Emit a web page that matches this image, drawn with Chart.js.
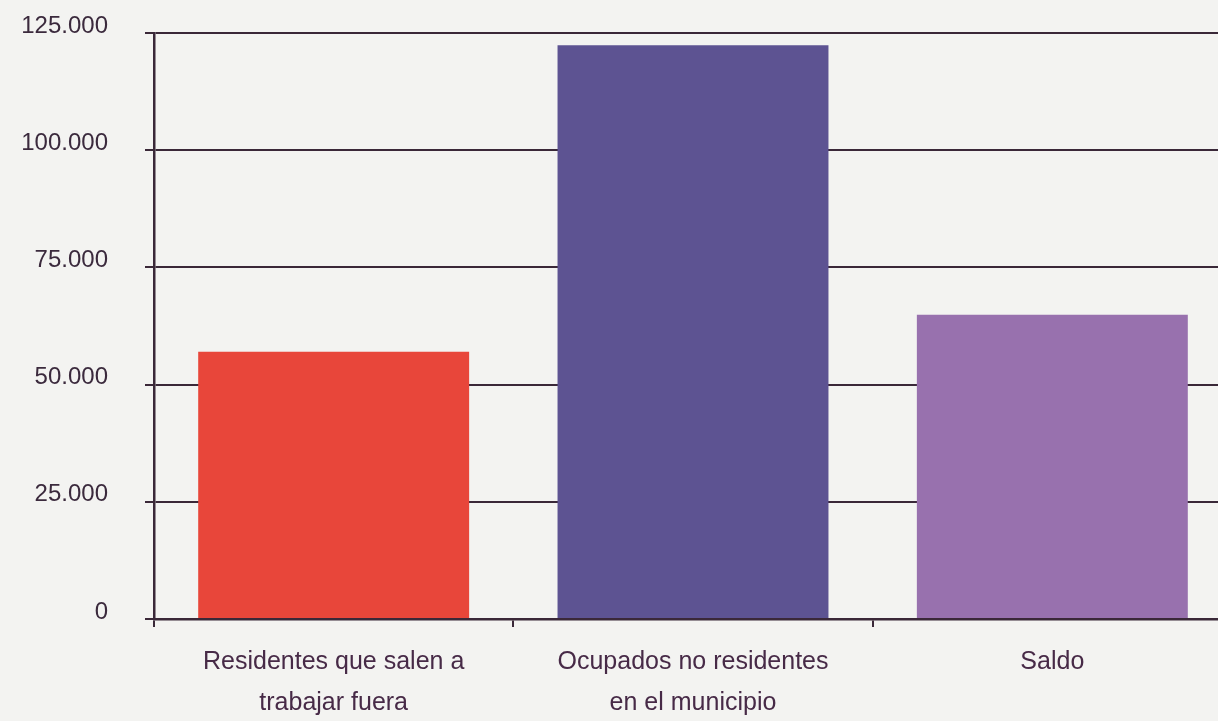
<!DOCTYPE html>
<html lang="es">
<head>
<meta charset="utf-8">
<title>Residentes y ocupados</title>
<script src="https://cdn.jsdelivr.net/npm/chart.js@4.4.1/dist/chart.umd.min.js"></script>
<style>
  html, body { margin: 0; padding: 0; background: #f3f3f1; overflow: hidden; }
  #wrap { width: 1218px; height: 721px; position: relative; overflow: hidden; }
  canvas { display: block; }
</style>
</head>
<body>
<div id="wrap"><canvas id="chart" width="1232" height="721"></canvas></div>
<script>
// Categories (two-line labels) and values
const categories = [
  ['Residentes que salen a', 'trabajar fuera'],
  ['Ocupados no residentes', 'en el municipio'],
  ['Saldo']
];
const values = [57000, 122400, 64900];
const barColors = ['#e8463a', '#5d5392', '#9871ae'];

// Y axis range and tick labels
const yMin = 0;
const yMax = 125000;
const yStep = 25000;

const ink = '#3a2838';

function formatMiles(v) {
  return String(Math.round(v)).replace(/\B(?=(\d{3})+(?!\d))/g, '.');
}

new Chart(document.getElementById('chart'), {
  type: 'bar',
  data: {
    labels: categories,
    datasets: [{
      data: values,
      backgroundColor: barColors,
      borderWidth: 0,
      barPercentage: 0.754,
      categoryPercentage: 1.0
    }]
  },
  options: {
    responsive: false,
    animation: false,
    layout: { padding: { top: 33, right: 0, bottom: 0, left: 0 } },
    plugins: {
      legend: { display: false },
      tooltip: { enabled: false }
    },
    scales: {
      x: {
        afterFit: (scale) => {
          scale.height = 102;
          scale.paddingLeft = 0;
          scale.paddingRight = 0;
        },
        grid: {
          display: true,
          drawOnChartArea: false,
          drawTicks: true,
          tickLength: 8,
          color: ink,
          lineWidth: 2
        },
        border: { display: true, color: ink, width: 2.5 },
        ticks: {
          color: '#472a47',
          padding: 15,
          maxRotation: 0,
          autoSkip: false,
          font: { family: '"Liberation Sans", Arial, sans-serif', size: 25, lineHeight: 1.64 }
        }
      },
      y: {
        min: yMin,
        max: yMax,
        afterFit: (scale) => {
          scale.width = 154;
          scale.paddingTop = 0;
          scale.paddingBottom = 0;
        },
        grid: {
          color: ink,
          lineWidth: 2,
          tickLength: 9,
          drawTicks: true
        },
        border: { display: true, color: ink, width: 2.5 },
        ticks: {
          stepSize: yStep,
          color: '#3b2a3d',
          padding: 37,
          labelOffset: -7,
          font: { family: '"Liberation Sans", Arial, sans-serif', size: 24 },
          callback: (v) => formatMiles(v)
        }
      }
    }
  }
});
</script>
</body>
</html>
